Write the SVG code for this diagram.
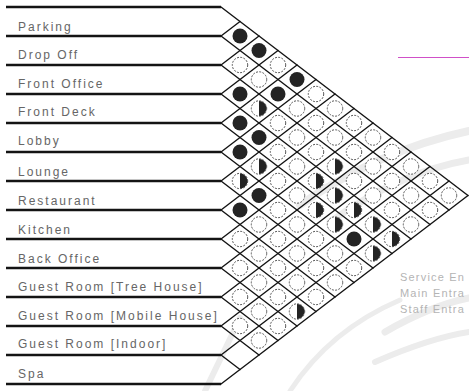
<svg xmlns="http://www.w3.org/2000/svg" width="469" height="391" viewBox="0 0 469 391">
<style>
.lbl{font-family:"Liberation Sans",Arial,sans-serif;font-size:12px;letter-spacing:2px;fill:#666}
.side{font-family:"Liberation Sans",Arial,sans-serif;font-size:11px;letter-spacing:1.2px;fill:#b4b4b4}
.sep{stroke:#141414;stroke-width:2.4;fill:none}
.grid{stroke:#141414;stroke-width:1.4;fill:none;stroke-linecap:round}
.wm{stroke:#ececec;fill:none;stroke-linecap:round}
</style>
<defs>
<g id="o"><circle r="7.7" fill="#fff" stroke="#444" stroke-width="0.9" stroke-dasharray="2 1.3"/></g>
<g id="f"><circle r="7.5" fill="#242424"/></g>
<g id="h"><circle r="7.7" fill="#fff" stroke="#444" stroke-width="0.9" stroke-dasharray="2 1.3"/><path d="M0,-7.5 A7.5,7.5 0 0 1 0,7.5 Z" fill="#242424"/></g>
</defs>
<rect width="469" height="391" fill="#fff"/>
<g id="watermark">
<path class="wm" stroke-width="8" d="M300 205 Q380 150 469 131"/>
<path class="wm" stroke-width="7" d="M330 222 Q400 172 469 160"/>
<path class="wm" stroke-width="7" d="M385 332 Q430 306 469 298"/>
<path class="wm" stroke-width="6" d="M375 362 Q430 338 469 332"/>
<path class="wm" stroke-width="6" d="M205 391 L240 318"/>
<path class="wm" stroke-width="5" d="M290 391 Q330 330 400 300"/>
</g>
<line x1="398" y1="57.5" x2="469" y2="57.5" stroke="#d050c8" stroke-width="1.2"/>
<g id="connectors">
<g class="sep">
<line x1="6" y1="7" x2="221" y2="7"/>
<line x1="6" y1="36" x2="221" y2="36"/>
<line x1="6" y1="65" x2="221" y2="65"/>
<line x1="6" y1="94" x2="221" y2="94"/>
<line x1="6" y1="123" x2="221" y2="123"/>
<line x1="6" y1="152" x2="221" y2="152"/>
<line x1="6" y1="181" x2="221" y2="181"/>
<line x1="6" y1="210" x2="221" y2="210"/>
<line x1="6" y1="239" x2="221" y2="239"/>
<line x1="6" y1="268" x2="221" y2="268"/>
<line x1="6" y1="297" x2="221" y2="297"/>
<line x1="6" y1="326" x2="221" y2="326"/>
<line x1="6" y1="355" x2="221" y2="355"/>
<line x1="6" y1="384" x2="221" y2="384"/>
</g>
<g class="grid">
<line x1="221" y1="7" x2="468" y2="195.5"/>
<line x1="221" y1="36" x2="449" y2="210"/>
<line x1="221" y1="65" x2="430" y2="224.5"/>
<line x1="221" y1="94" x2="411" y2="239"/>
<line x1="221" y1="123" x2="392" y2="253.5"/>
<line x1="221" y1="152" x2="373" y2="268"/>
<line x1="221" y1="181" x2="354" y2="282.5"/>
<line x1="221" y1="210" x2="335" y2="297"/>
<line x1="221" y1="239" x2="316" y2="311.5"/>
<line x1="221" y1="268" x2="297" y2="326"/>
<line x1="221" y1="297" x2="278" y2="340.5"/>
<line x1="221" y1="326" x2="259" y2="355"/>
<line x1="221" y1="355" x2="240" y2="369.5"/>
<line x1="221" y1="36" x2="240" y2="21.5"/>
<line x1="221" y1="65" x2="259" y2="36"/>
<line x1="221" y1="94" x2="278" y2="50.5"/>
<line x1="221" y1="123" x2="297" y2="65"/>
<line x1="221" y1="152" x2="316" y2="79.5"/>
<line x1="221" y1="181" x2="335" y2="94"/>
<line x1="221" y1="210" x2="354" y2="108.5"/>
<line x1="221" y1="239" x2="373" y2="123"/>
<line x1="221" y1="268" x2="392" y2="137.5"/>
<line x1="221" y1="297" x2="411" y2="152"/>
<line x1="221" y1="326" x2="430" y2="166.5"/>
<line x1="221" y1="355" x2="449" y2="181"/>
<line x1="221" y1="384" x2="468" y2="195.5"/>
</g>
</g>
<g id="row-parking"><text class="lbl" x="18" y="31">Parking</text></g>
<g id="row-drop-off"><text class="lbl" x="18" y="59">Drop Off</text></g>
<g id="row-front-office"><text class="lbl" x="18" y="88">Front Office</text></g>
<g id="row-front-deck"><text class="lbl" x="18" y="116">Front Deck</text></g>
<g id="row-lobby"><text class="lbl" x="18" y="145">Lobby</text></g>
<g id="row-lounge"><text class="lbl" x="18" y="176">Lounge</text></g>
<g id="row-restaurant"><text class="lbl" x="18" y="205">Restaurant</text></g>
<g id="row-kitchen"><text class="lbl" x="18" y="234">Kitchen</text></g>
<g id="row-back-office"><text class="lbl" x="18" y="263">Back Office</text></g>
<g id="row-guest-tree"><text class="lbl" x="18" y="291">Guest Room [Tree House]</text></g>
<g id="row-guest-mobile"><text class="lbl" x="18" y="320">Guest Room [Mobile House]</text></g>
<g id="row-guest-indoor"><text class="lbl" x="18" y="348">Guest Room [Indoor]</text></g>
<g id="row-spa"><text class="lbl" x="18" y="378">Spa</text></g>
<g id="cells">
<g id="cells-r1">
<use href="#f" x="240" y="36"/><use href="#f" x="259" y="50.5"/><use href="#o" x="278" y="65"/><use href="#f" x="297" y="79.5"/><use href="#o" x="316" y="94"/><use href="#o" x="335" y="108.5"/><use href="#o" x="354" y="123"/><use href="#o" x="373" y="137.5"/><use href="#o" x="392" y="152"/><use href="#o" x="411" y="166.5"/><use href="#o" x="430" y="181"/><use href="#o" x="449" y="195.5"/>
</g>
<g id="cells-r2">
<use href="#o" x="240" y="65"/><use href="#o" x="259" y="79.5"/><use href="#f" x="278" y="94"/><use href="#o" x="297" y="108.5"/><use href="#o" x="316" y="123"/><use href="#o" x="335" y="137.5"/><use href="#o" x="354" y="152"/><use href="#o" x="373" y="166.5"/><use href="#o" x="392" y="181"/><use href="#o" x="411" y="195.5"/><use href="#o" x="430" y="210"/>
</g>
<g id="cells-r3">
<use href="#f" x="240" y="94"/><use href="#h" x="259" y="108.5"/><use href="#o" x="278" y="123"/><use href="#o" x="297" y="137.5"/><use href="#o" x="316" y="152"/><use href="#h" x="335" y="166.5"/><use href="#o" x="354" y="181"/><use href="#o" x="373" y="195.5"/><use href="#o" x="392" y="210"/><use href="#o" x="411" y="224.5"/>
</g>
<g id="cells-r4">
<use href="#f" x="240" y="123"/><use href="#f" x="259" y="137.5"/><use href="#o" x="278" y="152"/><use href="#o" x="297" y="166.5"/><use href="#h" x="316" y="181"/><use href="#h" x="335" y="195.5"/><use href="#h" x="354" y="210"/><use href="#h" x="373" y="224.5"/><use href="#h" x="392" y="239"/>
</g>
<g id="cells-r5">
<use href="#f" x="240" y="152"/><use href="#h" x="259" y="166.5"/><use href="#o" x="278" y="181"/><use href="#o" x="297" y="195.5"/><use href="#h" x="316" y="210"/><use href="#h" x="335" y="224.5"/><use href="#f" x="354" y="239"/><use href="#h" x="373" y="253.5"/>
</g>
<g id="cells-r6">
<use href="#h" x="240" y="181"/><use href="#f" x="259" y="195.5"/><use href="#o" x="278" y="210"/><use href="#o" x="297" y="224.5"/><use href="#o" x="316" y="239"/><use href="#o" x="335" y="253.5"/><use href="#o" x="354" y="268"/>
</g>
<g id="cells-r7">
<use href="#f" x="240" y="210"/><use href="#o" x="259" y="224.5"/><use href="#o" x="278" y="239"/><use href="#o" x="297" y="253.5"/><use href="#o" x="316" y="268"/><use href="#o" x="335" y="282.5"/>
</g>
<g id="cells-r8">
<use href="#o" x="240" y="239"/><use href="#o" x="259" y="253.5"/><use href="#o" x="278" y="268"/><use href="#o" x="297" y="282.5"/><use href="#o" x="316" y="297"/>
</g>
<g id="cells-r9">
<use href="#o" x="240" y="268"/><use href="#o" x="259" y="282.5"/><use href="#o" x="278" y="297"/><use href="#h" x="297" y="311.5"/>
</g>
<g id="cells-r10">
<use href="#o" x="240" y="297"/><use href="#o" x="259" y="311.5"/><use href="#o" x="278" y="326"/>
</g>
<g id="cells-r11">
<use href="#o" x="240" y="326"/><use href="#o" x="259" y="340.5"/>
</g>
</g>
<g id="legend">
<text class="side" x="400" y="281">Service En</text>
<text class="side" x="400" y="297">Main Entra</text>
<text class="side" x="400" y="313">Staff Entra</text>
</g>
</svg>
